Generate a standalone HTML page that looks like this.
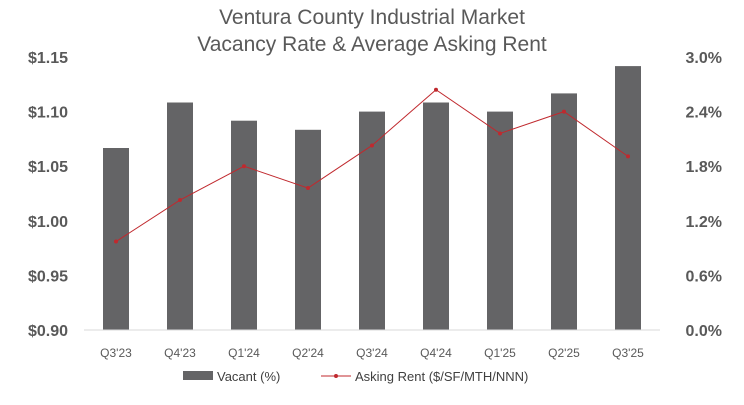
<!DOCTYPE html>
<html><head><meta charset="utf-8"><style>
body{margin:0;background:#fff;font-family:"Liberation Sans",sans-serif}
svg text{font-family:"Liberation Sans",sans-serif}
</style></head><body>
<svg width="744" height="400" xmlns="http://www.w3.org/2000/svg">
<text x="372" y="24" text-anchor="middle" font-size="21" fill="#595959">Ventura County Industrial Market</text>
<text x="372" y="51" text-anchor="middle" font-size="21" fill="#595959">Vacancy Rate &amp; Average Asking Rent</text>
<g id="plot"></g>
<g>
<rect x="183" y="371" width="30" height="9" fill="#646466"/>
<text x="217" y="381" font-size="13" fill="#404040">Vacant (%)</text>
<line x1="321" y1="376" x2="351" y2="376" stroke="#c0292e" stroke-width="1"/>
<circle cx="336" cy="376" r="2" fill="#c0292e"/>
<text x="355" y="381" font-size="13" fill="#404040">Asking Rent ($/SF/MTH/NNN)</text>
</g>
</svg>
<script>
const categories=["Q3'23","Q4'23","Q1'24","Q2'24","Q3'24","Q4'24","Q1'25","Q2'25","Q3'25"];
const vacancy=[2.0,2.5,2.3,2.2,2.4,2.5,2.4,2.6,2.9];
const rent=[0.981,1.019,1.050,1.030,1.069,1.120,1.080,1.100,1.059];
const leftTicks=["$0.90","$0.95","$1.00","$1.05","$1.10","$1.15"];
const rightTicks=["0.0%","0.6%","1.2%","1.8%","2.4%","3.0%"];
const X0=84,X1=660,Y0=330,Y1=57;
const band=(X1-X0)/categories.length;
const xc=i=>X0+band*(i+0.5);
const yL=v=>Y0-(v-0.90)/0.25*(Y0-Y1);
const yR=v=>Y0-v/3.0*(Y0-Y1);
const NS="http://www.w3.org/2000/svg";
const g=document.getElementById('plot');
function mk(t,a){const e=document.createElementNS(NS,t);for(const k in a)e.setAttribute(k,a[k]);g.appendChild(e);return e;}
vacancy.forEach((v,i)=>{const r=mk('rect',{x:xc(i)-13,y:yR(v),width:26,height:Y0-yR(v),fill:'#646466'});

});
const ax=mk('line',{x1:X0,x2:X1,y1:Y0,y2:Y0,stroke:'#d9d9d9'});


const pl=mk('polyline',{points:rent.map((v,i)=>xc(i)+','+yL(v)).join(' '),fill:'none',stroke:'#c0292e','stroke-width':1});


rent.forEach((v,i)=>{const c=mk('circle',{cx:xc(i),cy:yL(v),r:2,fill:'#c0292e'});

});
categories.forEach((c,i)=>{const t=mk('text',{x:xc(i),y:357,'text-anchor':'middle','font-size':12,fill:'#595959'});t.textContent=c;

});
leftTicks.forEach((s,i)=>{const t=mk('text',{x:68,y:Y0-i*(Y0-Y1)/5+6,'text-anchor':'end','font-size':16,'font-weight':'bold',fill:'#595959'});t.textContent=s;

});
rightTicks.forEach((s,i)=>{const t=mk('text',{x:722,y:Y0-i*(Y0-Y1)/5+6,'text-anchor':'end','font-size':16,'font-weight':'bold',fill:'#595959'});t.textContent=s;

});
</script>
</body></html>
